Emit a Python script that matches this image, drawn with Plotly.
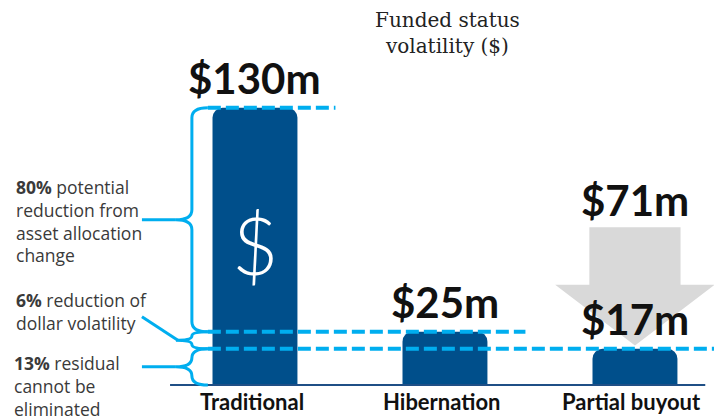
import plotly.graph_objects as go

# ---- data ----
categories = ["Traditional", "Hibernation", "Partial buyout"]
volatility = [130, 25, 17]            # funded status volatility, $m
value_labels = ["$130m", "$25m", "$17m"]
partial_before = 71                   # partial buyout before the reduction, $m
partial_before_label = "$71m"
title_text = "Funded status<br>volatility ($)"
notes = [
    "<b>80%</b> potential<br>reduction from<br>asset allocation<br>change",
    "<b>6%</b> reduction of<br>dollar volatility",
    "<b>13%</b> residual<br>cannot be<br>eliminated",
]

# ---- styles ----
BAR = "#004f8b"
CYAN = "#00aeef"
GREY = "#d9d9d9"
BAR_W = 0.447

xs = list(range(len(categories)))

fig = go.Figure()
fig.add_trace(go.Bar(
    x=xs, y=volatility, width=BAR_W,
    marker=dict(color=BAR, line=dict(width=0), cornerradius=10),
    hoverinfo="skip", showlegend=False,
))

shapes = []

# grey reduction arrow for partial buyout
cx = xs[2]
top = partial_before + 3
head = (partial_before + volatility[2]) / 2 + 3
tip = volatility[2] + 1.5
rw, hw = 0.24, 0.42
shapes.append(dict(
    type="path", xref="x", yref="y", layer="below",
    path=(f"M {cx-rw},{top} L {cx+rw},{top} L {cx+rw},{head} L {cx+hw},{head} "
          f"L {cx},{tip} L {cx-hw},{head} L {cx-rw},{head} Z"),
    fillcolor=GREY, line=dict(width=0),
))

# baseline
shapes.append(dict(type="line", xref="x", yref="y", x0=-0.447, x1=2.37, y0=0, y1=0,
                   line=dict(color="#1f4f86", width=2), layer="above"))

# braces
XB = -0.332
DX = 0.084


def brace(t, b):
    mid = (t + b) / 2
    ry = min(4.7, (t - b) / 4)
    return (f"M {XB+DX},{t} Q {XB},{t} {XB},{t-ry} L {XB},{mid+ry} "
            f"Q {XB},{mid} {XB-DX},{mid} Q {XB},{mid} {XB},{mid-ry} "
            f"L {XB},{b+ry} Q {XB},{b} {XB+DX},{b}")


levels = volatility + [0]
mids = []
for i in range(3):
    t, b = levels[i], levels[i + 1]
    mids.append((t + b) / 2)
    shapes.append(dict(type="path", xref="x", yref="y", path=brace(t, b),
                       line=dict(color=CYAN, width=3), layer="above"))

LX = -0.595
shapes.append(dict(type="line", xref="x", yref="y", x0=LX, x1=XB - DX, y0=mids[0], y1=mids[0],
                   line=dict(color=CYAN, width=3)))
shapes.append(dict(type="line", xref="x", yref="y", x0=LX, x1=XB - DX + 0.01, y0=mids[1] + 11, y1=mids[1],
                   line=dict(color=CYAN, width=3)))
shapes.append(dict(type="line", xref="x", yref="y", x0=LX, x1=XB - DX, y0=mids[2], y1=mids[2],
                   line=dict(color=CYAN, width=3)))

# dashed level lines
for i, v in enumerate(volatility):
    shapes.append(dict(type="line", xref="x", yref="y", x0=XB + DX, x1=xs[i] + BAR_W / 2 + 0.2,
                       y0=v, y1=v, layer="above",
                       line=dict(color=CYAN, width=4, dash="13px,5px")))

annotations = []
for i, (c, lab, v) in enumerate(zip(categories, value_labels, volatility)):
    annotations.append(dict(x=xs[i], y=v, text=lab, showarrow=False, yanchor="middle", yshift=30,
                            font=dict(family="Lato", size=42, color="#111111", weight="bold")))
    annotations.append(dict(x=xs[i], y=0, text=c, showarrow=False, yanchor="middle", yshift=-16,
                            xshift=-3, font=dict(family="Lato", size=22, color="#111111", weight="bold")))

annotations.append(dict(x=xs[2], y=partial_before, text=partial_before_label, showarrow=False,
                        yanchor="middle", yshift=34,
                        font=dict(family="Lato", size=42, color="#111111", weight="bold")))

annotations.append(dict(x=xs[0], y=volatility[0] / 2, text="$", showarrow=False, yanchor="middle",
                        yshift=2, font=dict(family="Lato", size=80, color="white", weight=300)))

annotations.append(dict(x=447 / 714, y=1 - 33 / 419, xref="paper", yref="paper", text=title_text,
                        showarrow=False, xanchor="center", yanchor="middle",
                        font=dict(family="DejaVu Serif", size=20, color="#222222")))

note_y = [221, 311, 386]
note_x = [14, 14, 12]
for t, yy, xx in zip(notes, note_y, note_x):
    annotations.append(dict(x=xx / 714, y=1 - yy / 419, xref="paper", yref="paper", text=t,
                            showarrow=False, xanchor="left", yanchor="middle", align="left",
                            font=dict(family="Open Sans", size=17.5, color="#3a3a3a")))

fig.update_layout(
    width=714, height=419,
    margin=dict(l=0, r=0, t=0, b=0),
    paper_bgcolor="white", plot_bgcolor="white",
    xaxis=dict(range=[-1.342, 2.416], visible=False, fixedrange=True),
    yaxis=dict(range=[-15.94, 180.5], visible=False, fixedrange=True),
    shapes=shapes, annotations=annotations,
    showlegend=False,
)

fig.write_html("out.html", config={"displayModeBar": False},
               post_script="document.body.style.margin='0';document.body.style.overflow='hidden';")
